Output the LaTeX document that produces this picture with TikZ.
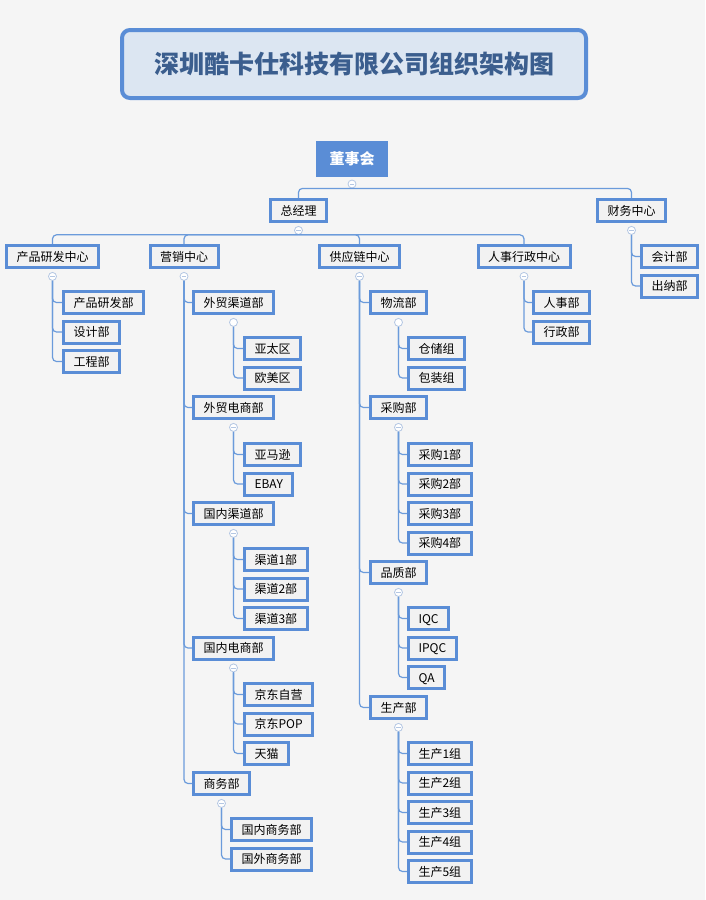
\documentclass[tikz,border=0pt]{standalone}
\usepackage{fontspec}
\setmainfont{Noto Sans CJK SC}
\usetikzlibrary{positioning}
\definecolor{bgc}{HTML}{F5F5F5}
\definecolor{boxc}{HTML}{5A8DD6}
\definecolor{linkc}{HTML}{6B9BDB}
\definecolor{titlec}{HTML}{3B5E8E}
\definecolor{titlefill}{HTML}{DCE6F2}
\definecolor{togc}{HTML}{B4C7E3}
\definecolor{boxfill}{HTML}{F2F2F2}
\tikzset{
  unit/.style={draw=boxc, line width=3pt, fill=boxfill, inner xsep=10pt, inner ysep=0pt,
    minimum height=22pt, text height=10.5pt, text depth=1.5pt,
    font=\fontsize{12}{12}\selectfont, text=black},
  leaf/.style={unit, anchor=west},
  link/.style={draw=linkc, line width=1.2pt, rounded corners=4pt},
  togo/.style={circle, draw=togc, line width=0.8pt, fill=white, minimum size=8pt, inner sep=0pt},
  tog/.style={togo, path picture={\draw[togc, line width=0.8pt]
    ([xshift=-2.2pt]path picture bounding box.center) -- ([xshift=2.2pt]path picture bounding box.center);}},
}
\begin{document}
\begin{tikzpicture}[x=1pt,y=-1pt]
        \fill[bgc] (0,0) rectangle (705,900);
        \useasboundingbox (0,0) rectangle (705,900);

        \node[draw=boxc, line width=4pt, fill=titlefill, rounded corners=8pt,
          minimum width=464pt, minimum height=68pt, text=titlec,
          font=\bfseries\fontsize{25}{25}\selectfont] (title) at (354,64) {深圳酷卡仕科技有限公司组织架构图};

        % top levels
        \node[fill=boxc, minimum width=72pt, minimum height=36pt, text=white,
          font=\bfseries\fontsize{15}{15}\selectfont] (dsh) at (352,159) {董事会};
        \node[tog] (t-dsh) at (352,184) {};
        \node[unit] (zjl) at (298.5,210.5) {总经理};
        \node[unit] (cw) at (631.5,210.5) {财务中心};
        \node[tog, below=3pt of zjl] (t-zjl) {};
        \node[tog, below=3pt of cw] (t-cw) {};
        \draw[link] (zjl.north) |- (t-dsh.south) -| (cw.north);

        \node[unit] (cp) at (52.5,256.5) {产品研发中心};
        \node[unit] (yx) at (184,256.5) {营销中心};
        \node[unit] (gy) at (359.5,256.5) {供应链中心};
        \node[unit] (rs) at (524,256.5) {人事行政中心};
        \node[tog, below=3pt of cp] (t-cp) {};
        \node[tog, below=3pt of yx] (t-yx) {};
        \node[tog, below=3pt of gy] (t-gy) {};
        \node[tog, below=3pt of rs] (t-rs) {};
        \draw[link] (cp.north) |- (t-zjl.south) -| (rs.north);
        \draw[link] (yx.north) |- (t-zjl.south);
        \draw[link] (gy.north) |- (t-zjl.south);

        % finance
        \node[leaf] (cw1) at (640,256.5) {会计部};
        \node[leaf] (cw2) at (640,286) {出纳部};
        \draw[link] (t-cw.south) |- (cw1.west);
        \draw[link] (t-cw.south) |- (cw2.west);

        % product R&D
        \node[leaf] (cp1) at (62,302.5) {产品研发部};
        \node[leaf] (cp2) at (62,332) {设计部};
        \node[leaf] (cp3) at (62,361.5) {工程部};
        \draw[link] (t-cp.south) |- (cp1.west);
        \draw[link] (t-cp.south) |- (cp2.west);
        \draw[link] (t-cp.south) |- (cp3.west);

        % marketing
        \node[leaf] (wm) at (192,302.5) {外贸渠道部};
        \node[leaf] (wd) at (192,407.5) {外贸电商部};
        \node[leaf] (gq) at (192,513.5) {国内渠道部};
        \node[leaf] (gd) at (192,648) {国内电商部};
        \node[leaf] (sw) at (192,783.5) {商务部};
        \draw[link] (t-yx.south) |- (wm.west);
        \draw[link] (t-yx.south) |- (wd.west);
        \draw[link] (t-yx.south) |- (gq.west);
        \draw[link] (t-yx.south) |- (gd.west);
        \draw[link] (t-yx.south) |- (sw.west);
        \node[togo, below=3pt of wm] (t-wm) {};
        \node[tog, below=3pt of wd] (t-wd) {};
        \node[tog, below=3pt of gq] (t-gq) {};
        \node[tog, below=3pt of gd] (t-gd) {};
        \node[tog, below=3pt of sw] (t-sw) {};

        \node[leaf] (wm1) at (243,348.5) {亚太区};
        \node[leaf] (wm2) at (243,378) {欧美区};
        \draw[link] (t-wm.south) |- (wm1.west);
        \draw[link] (t-wm.south) |- (wm2.west);

        \node[leaf] (wd1) at (243,454.5) {亚马逊};
        \node[leaf] (wd2) at (243,484) {EBAY};
        \draw[link] (t-wd.south) |- (wd1.west);
        \draw[link] (t-wd.south) |- (wd2.west);

        \node[leaf] (gq1) at (243,559.5) {渠道1部};
        \node[leaf] (gq2) at (243,589) {渠道2部};
        \node[leaf] (gq3) at (243,618.5) {渠道3部};
        \draw[link] (t-gq.south) |- (gq1.west);
        \draw[link] (t-gq.south) |- (gq2.west);
        \draw[link] (t-gq.south) |- (gq3.west);

        \node[leaf] (gd1) at (243,694.5) {京东自营};
        \node[leaf] (gd2) at (243,724) {京东POP};
        \node[leaf] (gd3) at (243,753.5) {天猫};
        \draw[link] (t-gd.south) |- (gd1.west);
        \draw[link] (t-gd.south) |- (gd2.west);
        \draw[link] (t-gd.south) |- (gd3.west);

        \node[leaf] (sw1) at (230,829.5) {国内商务部};
        \node[leaf] (sw2) at (230,859) {国外商务部};
        \draw[link] (t-sw.south) |- (sw1.west);
        \draw[link] (t-sw.south) |- (sw2.west);

        % supply chain
        \node[leaf] (wl) at (369,302.5) {物流部};
        \node[leaf] (cg) at (369,407.5) {采购部};
        \node[leaf] (pz) at (369,572.5) {品质部};
        \node[leaf] (sc) at (369,707.5) {生产部};
        \draw[link] (t-gy.south) |- (wl.west);
        \draw[link] (t-gy.south) |- (cg.west);
        \draw[link] (t-gy.south) |- (pz.west);
        \draw[link] (t-gy.south) |- (sc.west);
        \node[togo, below=3pt of wl] (t-wl) {};
        \node[tog, below=3pt of cg] (t-cg) {};
        \node[tog, below=3pt of pz] (t-pz) {};
        \node[tog, below=3pt of sc] (t-sc) {};

        \node[leaf] (wl1) at (407,348.5) {仓储组};
        \node[leaf] (wl2) at (407,378) {包装组};
        \draw[link] (t-wl.south) |- (wl1.west);
        \draw[link] (t-wl.south) |- (wl2.west);

        \node[leaf] (cg1) at (407,454.5) {采购1部};
        \node[leaf] (cg2) at (407,484) {采购2部};
        \node[leaf] (cg3) at (407,513.5) {采购3部};
        \node[leaf] (cg4) at (407,543) {采购4部};
        \draw[link] (t-cg.south) |- (cg1.west);
        \draw[link] (t-cg.south) |- (cg2.west);
        \draw[link] (t-cg.south) |- (cg3.west);
        \draw[link] (t-cg.south) |- (cg4.west);

        \node[leaf] (pz1) at (407,618.5) {IQC};
        \node[leaf] (pz2) at (407,648) {IPQC};
        \node[leaf] (pz3) at (407,677.5) {QA};
        \draw[link] (t-pz.south) |- (pz1.west);
        \draw[link] (t-pz.south) |- (pz2.west);
        \draw[link] (t-pz.south) |- (pz3.west);

        \node[leaf] (sc1) at (407,753.5) {生产1组};
        \node[leaf] (sc2) at (407,783) {生产2组};
        \node[leaf] (sc3) at (407,812.5) {生产3组};
        \node[leaf] (sc4) at (407,842) {生产4组};
        \node[leaf] (sc5) at (407,871.5) {生产5组};
        \draw[link] (t-sc.south) |- (sc1.west);
        \draw[link] (t-sc.south) |- (sc2.west);
        \draw[link] (t-sc.south) |- (sc3.west);
        \draw[link] (t-sc.south) |- (sc4.west);
        \draw[link] (t-sc.south) |- (sc5.west);

        % HR and admin
        \node[leaf] (rs1) at (532,302.5) {人事部};
        \node[leaf] (rs2) at (532,332) {行政部};
        \draw[link] (t-rs.south) |- (rs1.west);
        \draw[link] (t-rs.south) |- (rs2.west);
    \end{tikzpicture}
\end{document}
